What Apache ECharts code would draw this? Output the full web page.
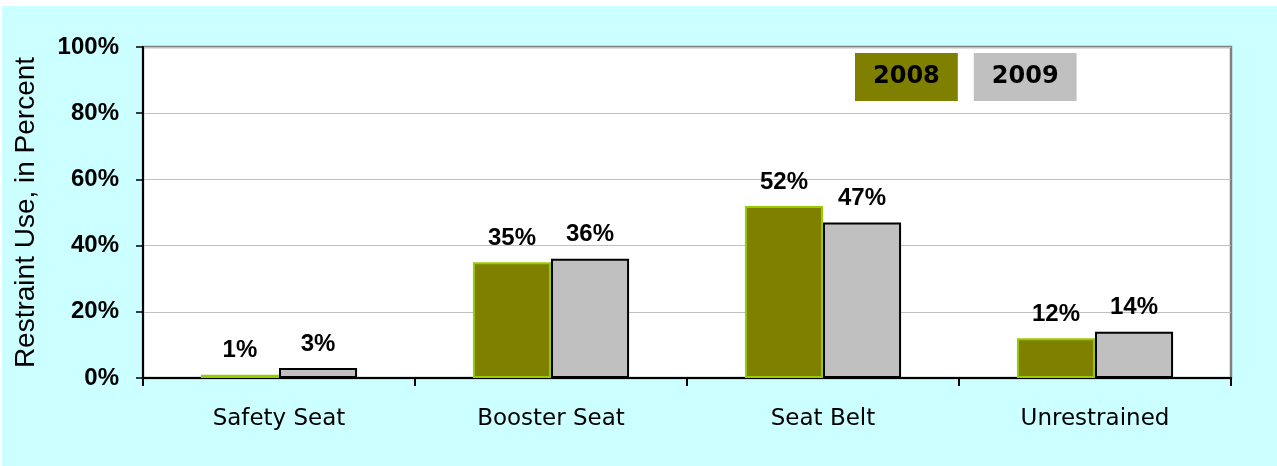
<!DOCTYPE html>
<html>
<head>
<meta charset="utf-8">
<script src="https://cdn.jsdelivr.net/npm/echarts@6/dist/echarts.min.js"></script>
<style>
html,body{margin:0;padding:0;background:#ffffff;}
#c{position:absolute;left:2px;top:6px;width:1275px;height:460px;background:#CCFFFF;}
</style>
</head>
<body>
<div id="c"></div>
<script>
var categories = ['Safety Seat', 'Booster Seat', 'Seat Belt', 'Unrestrained'];
var values2008 = [1, 35, 52, 12];
var values2009 = [3, 36, 47, 14];
var yTicks = [0, 20, 40, 60, 80, 100];

var chart = echarts.init(document.getElementById('c'));
var labelStyle = {
  show: true, position: 'top', distance: 12,
  formatter: '{c}%', color: '#000',
  fontFamily: 'Liberation Sans', fontWeight: 'bold', fontSize: 24
};
chart.setOption({
  animation: false,
  backgroundColor: '#CCFFFF',
  grid: {
    left: 141, right: 46, top: 41, bottom: 88,
    show: true, backgroundColor: '#ffffff', borderColor: '#808080', borderWidth: 2.5
  },
  legend: {
    left: 847, top: 47, padding: 0, itemGap: 10,
    itemWidth: 0, itemHeight: 0, selectedMode: false,
    data: [
      {name: '2008', icon: 'rect', textStyle: {backgroundColor: '#808000', padding: [12, 18, 12, 18]}},
      {name: '2009', icon: 'rect', textStyle: {backgroundColor: '#C0C0C0', padding: [12, 18, 12, 18]}}
    ],
    textStyle: {
      color: '#000', fontFamily: 'DejaVu Sans', fontWeight: 'bold',
      fontSize: 24, lineHeight: 24
    }
  },
  xAxis: {
    type: 'category', data: categories,
    axisLine: {lineStyle: {color: '#000', width: 2}},
    axisTick: {show: true, length: 8, alignWithLabel: false, lineStyle: {color: '#000', width: 2}},
    axisLabel: {
      margin: 30, color: '#000',
      fontFamily: 'DejaVu Sans', fontSize: 23
    }
  },
  yAxis: {
    type: 'value', min: 0, max: 100, interval: 20,
    name: 'Restraint Use, in Percent', nameLocation: 'middle', nameGap: 103, nameRotate: 90,
    nameTextStyle: {color: '#000', fontFamily: 'Liberation Sans', fontSize: 28},
    axisLine: {show: true, lineStyle: {color: '#000', width: 2}},
    axisTick: {show: true, length: 7, lineStyle: {color: '#000', width: 1.5}},
    splitLine: {lineStyle: {color: '#C0C0C0', width: 1}},
    axisLabel: {
      margin: 24, color: '#000',
      fontFamily: 'Liberation Sans', fontWeight: 'bold', fontSize: 24,
      formatter: function (v) { return yTicks.indexOf(v) >= 0 ? v + '%' : ''; }
    }
  },
  series: [
    {
      name: '2008', type: 'bar', data: values2008,
      barGap: '0%', barCategoryGap: '42.6%',
      itemStyle: {color: '#808000', borderColor: '#99CC00', borderWidth: 2},
      label: labelStyle
    },
    {
      name: '2009', type: 'bar', data: values2009,
      itemStyle: {color: '#C0C0C0', borderColor: '#000', borderWidth: 2},
      label: labelStyle
    }
  ]
});
</script>
</body>
</html>
